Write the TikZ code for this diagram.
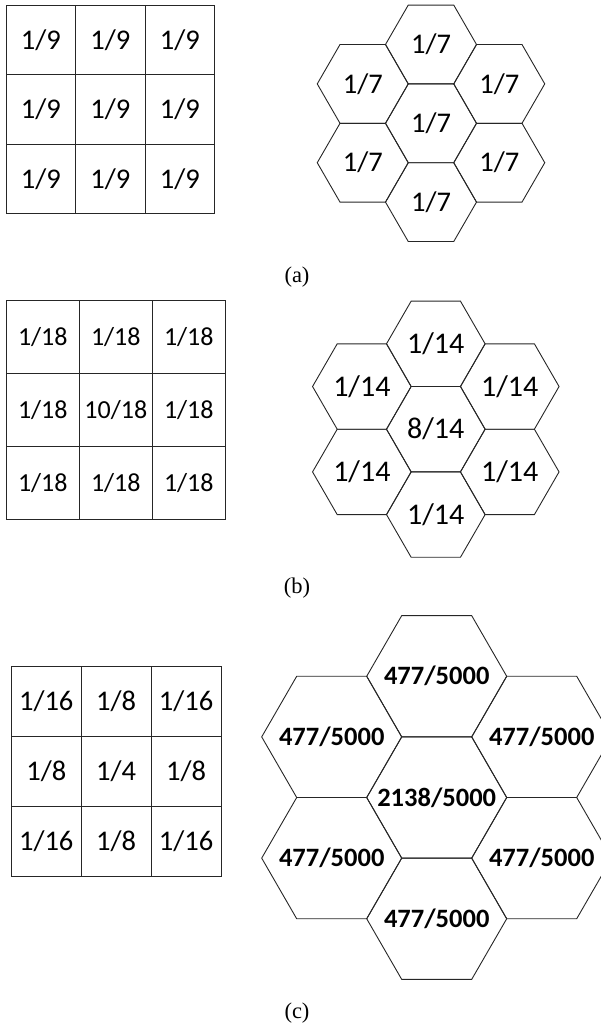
\documentclass[tikz,border=0pt]{standalone}
\usepackage{fontspec}
\setmainfont{Carlito}
\newfontfamily\capfont{Liberation Serif}
\usetikzlibrary{shapes.geometric}
% hexagon label: zero-width box so the text never enlarges the cell
\newcommand\hexlabel[1]{\makebox[0pt]{#1}}
\begin{document}
\begin{tikzpicture}[x=1pt,y=-1pt,
  edge/.style={draw=black!85, line width=0.9pt},
  sqcell/.style={edge, rectangle, inner sep=0pt, outer sep=0pt, anchor=north west},
  hexcell/.style={edge, regular polygon, regular polygon sides=6, inner sep=0pt, outer sep=0pt},
  caption/.style={font=\capfont\fontsize{22.5}{26}\selectfont, anchor=base}]
\useasboundingbox (0,0) rectangle (601,1029);
\clip (0,0) rectangle (601,1029);

% ---------- (a) uniform weights ----------
\def\cx{6}\def\cy{5}\def\cs{69.5}
\foreach \r/\c/\t in {0/0/{1/9},0/1/{1/9},0/2/{1/9},
                      1/0/{1/9},1/1/{1/9},1/2/{1/9},
                      2/0/{1/9},2/1/{1/9},2/2/{1/9}}
  \node[sqcell, minimum width=\cs pt, minimum height=\cs pt,
        font=\fontsize{28.5}{32}\selectfont] (sa\r\c) at (\cx+\c*\cs, \cy+\r*\cs) {\t};

\def\hx{431}\def\hy{123.3}\def\hr{45.5}
\begin{scope}[every node/.style={hexcell, minimum size=2*\hr pt, font=\fontsize{28.5}{32}\selectfont}]
  \node (ha0) at (\hx, \hy) {\hexlabel{1/7}};
  \node (ha1) at (\hx, \hy-1.732*\hr) {\hexlabel{1/7}};
  \node (ha2) at (\hx+1.5*\hr, \hy-0.866*\hr) {\hexlabel{1/7}};
  \node (ha3) at (\hx+1.5*\hr, \hy+0.866*\hr) {\hexlabel{1/7}};
  \node (ha4) at (\hx, \hy+1.732*\hr) {\hexlabel{1/7}};
  \node (ha5) at (\hx-1.5*\hr, \hy+0.866*\hr) {\hexlabel{1/7}};
  \node (ha6) at (\hx-1.5*\hr, \hy-0.866*\hr) {\hexlabel{1/7}};
\end{scope}
\node[caption] (capa) at (297, 282) {(a)};

% ---------- (b) centre-weighted ----------
\def\cx{6.3}\def\cy{300.7}\def\cs{73}
\foreach \r/\c/\t in {0/0/{1/18},0/1/{1/18},0/2/{1/18},
                      1/0/{1/18},1/1/{10/18},1/2/{1/18},
                      2/0/{1/18},2/1/{1/18},2/2/{1/18}}
  \node[sqcell, minimum width=\cs pt, minimum height=\cs pt,
        font=\fontsize{26}{30}\selectfont] (sb\r\c) at (\cx+\c*\cs, \cy+\r*\cs) {\t};

\def\hx{435.8}\def\hy{429.2}\def\hr{49.3}
\begin{scope}[every node/.style={hexcell, minimum size=2*\hr pt, font=\fontsize{30}{34}\selectfont}]
  \node (hb0) at (\hx, \hy) {\hexlabel{8/14}};
  \node (hb1) at (\hx, \hy-1.732*\hr) {\hexlabel{1/14}};
  \node (hb2) at (\hx+1.5*\hr, \hy-0.866*\hr) {\hexlabel{1/14}};
  \node (hb3) at (\hx+1.5*\hr, \hy+0.866*\hr) {\hexlabel{1/14}};
  \node (hb4) at (\hx, \hy+1.732*\hr) {\hexlabel{1/14}};
  \node (hb5) at (\hx-1.5*\hr, \hy+0.866*\hr) {\hexlabel{1/14}};
  \node (hb6) at (\hx-1.5*\hr, \hy-0.866*\hr) {\hexlabel{1/14}};
\end{scope}
\node[caption] (capb) at (297, 593) {(b)};

% ---------- (c) Gaussian-like ----------
\def\cx{11.3}\def\cy{666.7}\def\cs{69.9}
\foreach \r/\c/\t in {0/0/{1/16},0/1/{1/8},0/2/{1/16},
                      1/0/{1/8},1/1/{1/4},1/2/{1/8},
                      2/0/{1/16},2/1/{1/8},2/2/{1/16}}
  \node[sqcell, minimum width=\cs pt, minimum height=\cs pt,
        font=\fontsize{28.5}{32}\selectfont] (sc\r\c) at (\cx+\c*\cs, \cy+\r*\cs) {\t};

\def\hx{436.7}\def\hy{797.5}\def\hr{70}
\begin{scope}[every node/.style={hexcell, minimum size=2*\hr pt, font=\bfseries\fontsize{26.5}{30}\selectfont}]
  \node (hc0) at (\hx, \hy) {\hexlabel{2138/5000}};
  \node (hc1) at (\hx, \hy-1.732*\hr) {\hexlabel{477/5000}};
  \node (hc2) at (\hx+1.5*\hr, \hy-0.866*\hr) {\hexlabel{477/5000}};
  \node (hc3) at (\hx+1.5*\hr, \hy+0.866*\hr) {\hexlabel{477/5000}};
  \node (hc4) at (\hx, \hy+1.732*\hr) {\hexlabel{477/5000}};
  \node (hc5) at (\hx-1.5*\hr, \hy+0.866*\hr) {\hexlabel{477/5000}};
  \node (hc6) at (\hx-1.5*\hr, \hy-0.866*\hr) {\hexlabel{477/5000}};
\end{scope}
\node[caption] (capc) at (297, 1018) {(c)};
\end{tikzpicture}
\end{document}
